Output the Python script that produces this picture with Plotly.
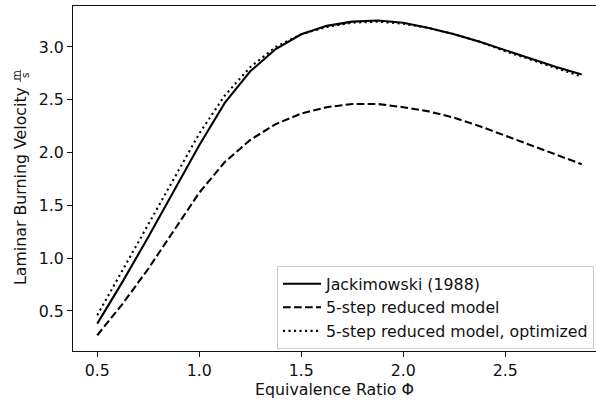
import plotly.graph_objects as go

phi = [0.5, 0.625, 0.75, 0.875, 1.0, 1.125, 1.25, 1.375, 1.5, 1.625,
       1.75, 1.875, 2.0, 2.125, 2.25, 2.375, 2.5, 2.625, 2.75, 2.875]
jackimowski = [0.38, 0.78, 1.20, 1.63, 2.07, 2.47, 2.77, 2.98, 3.12, 3.20,
               3.24, 3.25, 3.23, 3.18, 3.12, 3.05, 2.97, 2.89, 2.81, 2.74]
reduced = [0.27, 0.57, 0.90, 1.26, 1.62, 1.91, 2.12, 2.27, 2.37, 2.43,
           2.46, 2.46, 2.43, 2.39, 2.33, 2.25, 2.16, 2.07, 1.98, 1.89]
optimized = [0.46, 0.89, 1.33, 1.76, 2.18, 2.54, 2.81, 3.00, 3.12, 3.19,
             3.23, 3.24, 3.22, 3.18, 3.12, 3.05, 2.96, 2.88, 2.80, 2.72]

x_ticks = [0.5, 1.0, 1.5, 2.0, 2.5]
y_ticks = [0.5, 1.0, 1.5, 2.0, 2.5, 3.0]
names = ["Jackimowski (1988)", "5-step reduced model", "5-step reduced model, optimized"]

FONT = "DejaVu Sans"
FS = 15.8
INK = "#111"
W, H = 596, 404
L, R, T, B = 73, 0, 6, 53

fig = go.Figure()
styles = [("solid", jackimowski), ("7.7px,3.3px", reduced), ("2.1px,3.4px", optimized)]
for (dash, ys), nm in zip(styles, names):
    fig.add_trace(go.Scatter(x=phi, y=ys, mode="lines", name=nm,
                             line=dict(color="black", width=2.08, dash=dash)))

axis_common = dict(showgrid=False, zeroline=False, showline=True, linecolor=INK,
                   linewidth=1, ticks="outside", ticklen=5, tickwidth=1, tickcolor=INK,
                   tickfont=dict(family=FONT, size=FS, color=INK))
fig.update_xaxes(range=[0.381, 2.945], tickvals=x_ticks, ticktext=[f"{v:.1f}" for v in x_ticks],
                 mirror=True, title=dict(text="Equivalence Ratio Φ",
                                          font=dict(family=FONT, size=FS, color=INK), standoff=3),
                 **axis_common)
fig.update_yaxes(range=[0.121, 3.388], tickvals=y_ticks, ticktext=[f"{v:.1f}" for v in y_ticks],
                 **axis_common)

pw = W - L - R
ph = H - T - B
def px(x):
    return (x - L) / pw
def py(y):
    return (H - B - y) / ph

# y-axis title with stacked fraction m/s
fig.add_annotation(text="Laminar Burning Velocity", textangle=-90, xref="paper", yref="paper",
                   x=px(20), y=py(186), showarrow=False, xanchor="center", yanchor="middle",
                   font=dict(family=FONT, size=FS, color=INK))
fig.add_annotation(text="m", textangle=-90, xref="paper", yref="paper",
                   x=px(15.5), y=py(76), showarrow=False, xanchor="center", yanchor="middle",
                   font=dict(family=FONT, size=10.5, color=INK))
fig.add_annotation(text="s", textangle=-90, xref="paper", yref="paper",
                   x=px(25), y=py(76), showarrow=False, xanchor="center", yanchor="middle",
                   font=dict(family=FONT, size=10.5, color=INK))
fig.add_shape(type="line", xref="paper", yref="paper", x0=px(20.3), x1=px(20.3),
              y0=py(70), y1=py(82), line=dict(color=INK, width=0.8))

fig.update_layout(
    width=W, height=H, margin=dict(l=L, r=R, t=T, b=B),
    paper_bgcolor="white", plot_bgcolor="white",
    legend=dict(x=px(277), y=py(266), xanchor="left", yanchor="top",
                bordercolor="#cccccc", borderwidth=1, bgcolor="rgba(255,255,255,0.8)",
                font=dict(family=FONT, size=FS, color=INK), itemwidth=38),
    showlegend=True,
)

fig.write_html("out.html", config={"displayModeBar": False},
               post_script="document.body.style.margin='0';document.body.style.padding='0';")
